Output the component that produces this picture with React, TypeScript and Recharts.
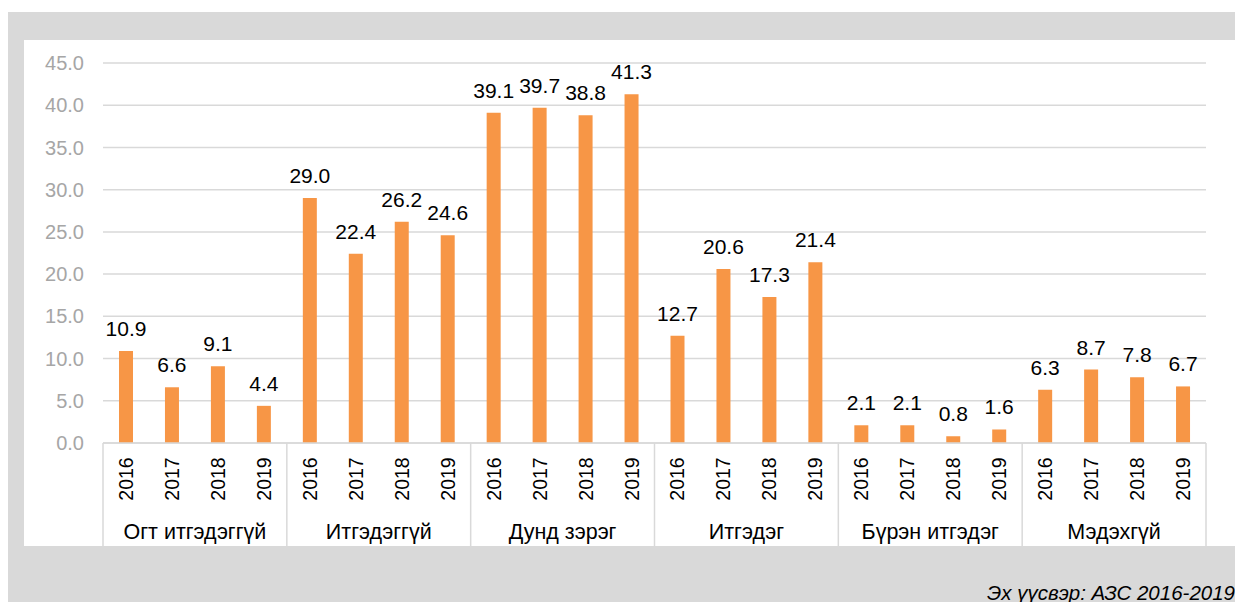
import React from 'react';
import { BarChart, Bar, XAxis, YAxis, CartesianGrid, LabelList } from 'recharts';

const groups = ['Огт итгэдэггүй', 'Итгэдэггүй', 'Дунд зэрэг', 'Итгэдэг', 'Бүрэн итгэдэг', 'Мэдэхгүй'];
const years = ['2016', '2017', '2018', '2019'];

const ogtItgedeggui = [10.9, 6.6, 9.1, 4.4];
const itgedeggui = [29.0, 22.4, 26.2, 24.6];
const dundZereg = [39.1, 39.7, 38.8, 41.3];
const itgedeg = [12.7, 20.6, 17.3, 21.4];
const burenItgedeg = [2.1, 2.1, 0.8, 1.6];
const medehgui = [6.3, 8.7, 7.8, 6.7];

const yTicks = [0, 5, 10, 15, 20, 25, 30, 35, 40, 45];

const valuesByGroup = [ogtItgedeggui, itgedeggui, dundZereg, itgedeg, burenItgedeg, medehgui];

const data = groups.flatMap((g, gi) =>
  years.map((y, yi) => ({ key: `${g}-${y}`, group: g, year: y, value: valuesByGroup[gi][yi] }))
);

const FONT = '"Liberation Sans", Arial, sans-serif';
const LINE = '#d9d9d9';
const AXIS_DEPTH = 103;

// two-level category tick: year rotated, group name under every 4 bars, separators between groups
const CategoryTick = (props: any) => {
  const { x, y, payload, index } = props;
  const half = payload && payload.offset ? payload.offset : 23;
  const row = data[index];
  if (!row) return null;
  const pos = index % years.length;
  return (
    <g>
      <text
        x={0}
        y={0}
        transform={`translate(${x},${y + 36}) rotate(-90)`}
        textAnchor="middle"
        dominantBaseline="central"
        fontSize={19.5}
        fill="#000"
        fontFamily={FONT}
      >
        {row.year}
      </text>
      {pos === 0 && <line x1={x - half} x2={x - half} y1={y} y2={y + AXIS_DEPTH} stroke={LINE} strokeWidth={1.5} />}
      {index === data.length - 1 && (
        <line x1={x + half} x2={x + half} y1={y} y2={y + AXIS_DEPTH} stroke={LINE} strokeWidth={1.5} />
      )}
      {pos === 1 && (
        <text x={x + half} y={y + 96} textAnchor="middle" fontSize={21.5} fill="#000" fontFamily={FONT}>
          {row.group}
        </text>
      )}
    </g>
  );
};

export default function App() {
  return (
    <div
      style={{
        position: 'relative',
        width: 1243,
        height: 602,
        margin: '-8px 0 0 -8px',
        overflow: 'hidden',
        background: '#fff',
        fontFamily: FONT,
      }}
    >
      <div
        style={{
          position: 'absolute',
          left: 8,
          top: -18,
          fontSize: 21,
          fontWeight: 'bold',
          color: '#000',
          whiteSpace: 'nowrap',
        }}
      >
        Зураг 7. Шүүхэд итгэх иргэдийн хувь, хувиар
      </div>
      <div style={{ position: 'absolute', left: 8, top: 12, width: 1235, height: 590, background: '#d9d9d9' }} />
      <div style={{ position: 'absolute', left: 24, top: 40, width: 1212, height: 506, background: '#fff' }}>
        <BarChart
          width={1212}
          height={506}
          data={data}
          margin={{ top: 23, right: 30, bottom: 0, left: 0 }}
          barSize={14}
          style={{ fontFamily: FONT }}
        >
          <CartesianGrid vertical={false} stroke={LINE} strokeWidth={1.5} />
          <XAxis
            dataKey="key"
            interval={0}
            height={AXIS_DEPTH}
            tickLine={false}
            tickSize={0}
            tickMargin={0}
            axisLine={{ stroke: LINE, strokeWidth: 1.5 }}
            tick={<CategoryTick />}
          />
          <YAxis
            width={79}
            domain={[0, 45]}
            ticks={yTicks}
            interval={0}
            axisLine={false}
            tickLine={false}
            tickSize={0}
            tickMargin={19}
            tickFormatter={(v: number) => v.toFixed(1)}
            tick={{ fontSize: 20, fill: '#a6a6a6', fontFamily: FONT }}
          />
          <Bar dataKey="value" fill="#f79646" isAnimationActive={false}>
            <LabelList
              dataKey="value"
              position="top"
              offset={15}
              fill="#000"
              fontSize={21}
              fontFamily={FONT}
              formatter={(v: any) => Number(v).toFixed(1)}
            />
          </Bar>
        </BarChart>
      </div>
      <div
        style={{
          position: 'absolute',
          right: 8,
          top: 581,
          fontSize: 20.5,
          fontStyle: 'italic',
          color: '#000',
          whiteSpace: 'nowrap',
        }}
      >
        Эх үүсвэр: АЗС 2016-2019
      </div>
    </div>
  );
}
